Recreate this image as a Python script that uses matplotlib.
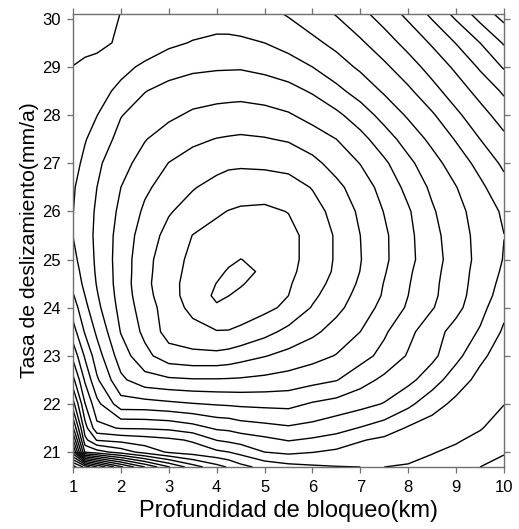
import numpy as np
import matplotlib
matplotlib.use("Agg")
import matplotlib.pyplot as plt

# ================= DATA =================
# locking depth grid (km) and slip-rate grid (mm/a)
depth_km = [1.0, 1.25, 1.5, 2.0, 2.5, 3.0, 3.5, 4.0, 4.25, 4.5, 5.0,
            5.5, 6.0, 6.5, 7.0, 7.5, 8.0, 8.5, 9.0, 9.5, 10.0]
slip_rate = [30.1, 29.5, 29.0, 28.5, 28.0, 27.5, 27.0, 26.5, 26.0, 25.5,
             25.0, 24.75, 24.5, 24.25, 24.0, 23.5, 23.0, 22.5, 22.0, 21.5,
             21.25, 21.0, 20.69]

# misfit, one row per slip rate (top to bottom)
misfit = [
    [8.9, 8.68, 8.45, 7.98, 7.78, 7.65, 7.6, 7.55, 7.56, 7.6, 7.72, 8.08, 8.56, 9.06, 9.72, 10.44, 11.24, 12.22, 13.27, 14.44, 15.4],
    [8.36, 8.3, 8.3, 7.82, 7.53, 7.2, 6.94, 6.76, 6.76, 6.82, 7.0, 7.4, 7.78, 8.25, 8.85, 9.56, 10.32, 11.12, 12.04, 13.0, 14.1],
    [7.98, 7.8, 7.6, 7.26, 6.83, 6.38, 6.19, 6.11, 6.1, 6.09, 6.25, 6.5, 7.0, 7.58, 8.16, 8.81, 9.57, 10.37, 11.19, 12.13, 13.1],
    [7.83, 7.6, 7.34, 6.78, 6.03, 5.71, 5.49, 5.39, 5.35, 5.32, 5.47, 5.7, 6.1, 6.74, 7.41, 8.12, 8.82, 9.67, 10.5, 11.33, 12.15],
    [7.6, 7.31, 7.02, 6.04, 5.6, 5.19, 4.84, 4.66, 4.62, 4.59, 4.67, 4.9, 5.34, 5.79, 6.5, 7.35, 8.13, 8.88, 9.8, 10.63, 11.45],
    [7.53, 7.07, 6.57, 5.7, 5.05, 4.54, 4.18, 3.97, 3.91, 3.86, 3.94, 4.1, 4.52, 5.0, 5.69, 6.54, 7.43, 8.24, 9.08, 10.0, 10.78],
    [7.38, 6.76, 6.19, 5.33, 4.62, 3.98, 3.63, 3.32, 3.17, 3.15, 3.21, 3.32, 3.73, 4.38, 5.03, 5.83, 6.76, 7.64, 8.47, 9.31, 10.2],
    [7.1, 6.55, 6.0, 5.0, 4.17, 3.59, 3.07, 2.68, 2.56, 2.47, 2.44, 2.6, 3.05, 3.75, 4.5, 5.35, 6.28, 7.19, 7.97, 8.79, 9.65],
    [7.02, 6.45, 5.86, 4.79, 3.84, 3.09, 2.59, 2.12, 1.97, 1.87, 1.82, 2.03, 2.63, 3.32, 4.18, 5.04, 5.89, 6.88, 7.68, 8.45, 9.15],
    [6.99, 6.4, 5.8, 4.62, 3.54, 2.68, 1.98, 1.69, 1.57, 1.44, 1.35, 1.71, 2.36, 3.11, 4.0, 4.83, 5.76, 6.69, 7.53, 8.32, 8.99],
    [7.25, 6.53, 5.83, 4.55, 3.35, 2.39, 1.79, 1.35, 1.17, 0.99, 1.14, 1.71, 2.36, 3.11, 3.96, 4.82, 5.73, 6.61, 7.45, 8.3, 9.05],
    [7.42, 6.66, 5.86, 4.57, 3.31, 2.36, 1.71, 1.21, 0.91, 0.57, 1.26, 1.78, 2.42, 3.16, 4.02, 4.92, 5.85, 6.69, 7.52, 8.37, 9.15],
    [7.6, 6.79, 5.94, 4.56, 3.26, 2.32, 1.61, 0.98, 0.52, 0.91, 1.43, 1.9, 2.58, 3.33, 4.15, 5.04, 5.93, 6.76, 7.57, 8.42, 9.3],
    [8.1, 7.0, 6.08, 4.61, 3.35, 2.38, 1.56, 0.83, 0.99, 1.21, 1.6, 2.0, 2.8, 3.55, 4.31, 5.11, 6.0, 6.8, 7.61, 8.51, 9.45],
    [8.5, 7.27, 6.25, 4.7, 3.5, 2.53, 1.72, 1.12, 1.34, 1.51, 1.75, 2.22, 3.07, 3.75, 4.5, 5.31, 6.13, 6.93, 7.73, 8.67, 9.75],
    [9.43, 7.9, 6.82, 4.95, 3.76, 2.6, 2.35, 2.05, 2.05, 2.18, 2.68, 3.27, 3.79, 4.38, 5.0, 5.86, 6.74, 7.59, 8.35, 9.1, 10.15],
    [10.7, 8.86, 7.45, 5.5, 4.29, 3.44, 3.25, 3.25, 3.37, 3.59, 3.95, 4.3, 4.65, 5.05, 5.64, 6.3, 7.09, 7.77, 8.7, 9.81, 10.43],
    [12.3, 9.85, 8.14, 6.21, 5.38, 5.17, 5.08, 5.08, 5.1, 5.13, 5.25, 5.42, 5.68, 5.95, 6.61, 7.22, 7.74, 8.52, 9.57, 10.26, 10.7],
    [14.4, 11.04, 9.29, 7.43, 7.4, 7.22, 7.05, 6.92, 6.87, 6.81, 6.75, 6.72, 7.1, 7.35, 7.67, 8.06, 8.76, 9.64, 10.22, 10.59, 10.98],
    [17.14, 12.42, 10.29, 9.92, 9.89, 9.78, 9.4, 8.85, 8.77, 8.52, 8.32, 8.13, 8.31, 8.67, 9.05, 9.47, 10.1, 10.41, 10.64, 10.93, 11.44],
    [19.1, 13.3, 11.93, 11.69, 11.45, 11.21, 10.88, 9.97, 9.79, 9.61, 9.25, 8.94, 9.15, 9.36, 9.93, 10.21, 10.43, 10.68, 10.9, 11.25, 11.7],
    [21.4, 14.89, 14.44, 13.55, 12.62, 11.87, 11.53, 11.19, 11.01, 10.69, 10.0, 9.79, 9.97, 10.2, 10.4, 10.55, 10.7, 10.95, 11.2, 11.6, 11.94],
    [26.5, 24.71, 23.0, 20.2, 18.0, 16.07, 14.47, 13.37, 12.9, 12.33, 11.67, 11.33, 11.15, 11.04, 11.0, 11.0, 11.08, 11.3, 11.6, 12.0, 12.25],
]

contour_levels = list(range(1, 27))
x_ticks = [1, 2, 3, 4, 5, 6, 7, 8, 9, 10]
y_ticks = [21, 22, 23, 24, 25, 26, 27, 28, 29, 30]

# ================= STYLE =================
plt.rcParams["font.family"] = ["Liberation Sans", "DejaVu Sans"]
edge_col = "#6f6f6f"

# ================= PLOT =================
x = np.array(depth_km)
y = np.array(slip_rate)[::-1]
z = np.array(misfit)[::-1]

fig = plt.figure(figsize=(5.19, 5.29), dpi=100)
ax = fig.add_axes([73 / 519, 1 - 467 / 529, 431 / 519, 453 / 529])

ax.contour(x, y, z, levels=contour_levels, colors="black", linewidths=1.0)

ax.set_xlim(1, 10)
ax.set_ylim(20.69, 30.1)
ax.set_xticks(x_ticks)
ax.set_yticks(y_ticks)

ax.tick_params(direction="out", top=True, right=True, labeltop=False,
               labelright=False, length=4, width=0.9, color=edge_col,
               labelsize=12, pad=5)
for sp in ax.spines.values():
    sp.set_color(edge_col)
    sp.set_linewidth(1.0)

ax.set_xlabel("Profundidad de bloqueo(km)", fontsize=17, labelpad=4)
ax.set_ylabel("Tasa de deslizamiento(mm/a)", fontsize=15.2, labelpad=2)

fig.savefig("out.png", dpi=100)
